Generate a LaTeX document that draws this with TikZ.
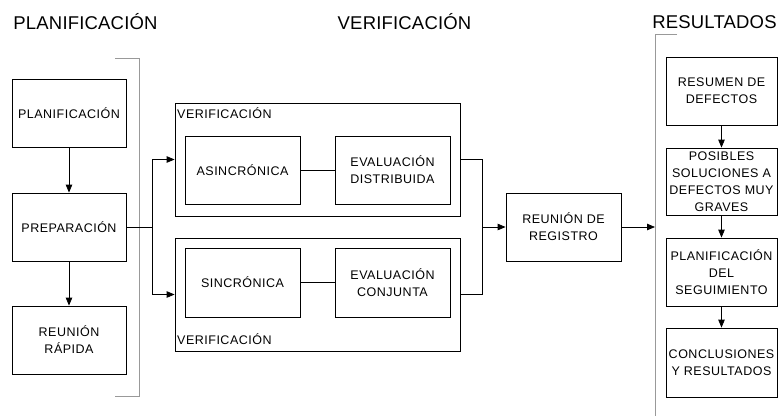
\documentclass[tikz,border=0pt]{standalone}
\usepackage{fontspec}
\setmainfont{Liberation Sans}
\newfontfamily\bxfont[LetterSpace=4]{Liberation Sans}
\newfontfamily\ttlfont[LetterSpace=1]{Liberation Sans}
\usetikzlibrary{arrows.meta}
\begin{document}
\begin{tikzpicture}[x=1pt,y=-1pt,
  box/.style={draw=black,line width=0.8pt,minimum width=114pt,minimum height=68pt,align=center,inner sep=1pt,font=\bxfont\fontsize{12.5}{17}\selectfont},
  outer/.style={draw=black,line width=0.8pt,minimum width=285pt,minimum height=113pt,inner sep=0pt},
  lab/.style={font=\bxfont\fontsize{12.5}{17}\selectfont,inner sep=0pt,anchor=west},
  title/.style={font=\ttlfont\fontsize{18.5}{22}\selectfont,inner sep=0pt},
  conn/.style={line width=0.8pt,black},
  arr/.style={conn,-{Triangle[length=8pt,width=6.5pt]}},
  brk/.style={line width=1pt,gray!80}]
\useasboundingbox (0,0) rectangle (782,416);
% titles
\node[title] (tp) at (85.5,22) {PLANIFICACIÓN};
\node[title] (tv) at (404.5,22) {VERIFICACIÓN};
\node[title] (tr) at (714.5,22) {RESULTADOS};
% brackets
\draw[brk] (115,58) -- (139,58) -- (139,396) -- (115,396);
\draw[brk] (677,34) -- (655,34) -- (655,416);
% planning column
\node[box] (p1) at (69,113) {PLANIFICACIÓN};
\node[box] (p2) at (69,227) {PREPARACIÓN};
\node[box] (p3) at (69,340) {REUNIÓN\\RÁPIDA};
\draw[arr] (p1.south) -- (p2.north);
\draw[arr] (p2.south) -- (p3.north);
% verification
\node[outer] (v1) at (317.5,159.5) {};
\node[outer] (v2) at (317.5,294.5) {};
\node[lab] (l1) at (177,113) {VERIFICACIÓN};
\node[lab] (l2) at (177,339) {VERIFICACIÓN};
\node[box,minimum width=115pt] (a1) at (242.5,170) {ASINCRÓNICA};
\node[box,minimum width=115pt] (d1) at (392.5,170) {EVALUACIÓN\\DISTRIBUIDA};
\node[box,minimum width=115pt,minimum height=69pt] (s2) at (242.5,282.5) {SINCRÓNICA};
\node[box,minimum width=115pt,minimum height=69pt] (c2) at (392.5,282.5) {EVALUACIÓN\\CONJUNTA};
\draw[conn] (a1.east) -- (d1.west);
\draw[conn] (s2.east) -- (c2.west);
\coordinate (jl) at (152,227);
\draw[conn] (p2.east) -- (jl);
\draw[arr] (jl) |- (v1.west);
\draw[arr] (jl) |- (v2.west);
\coordinate (jr) at (482,227);
\draw[conn] (v1.east) -| (jr);
\draw[conn] (v2.east) -| (jr);
\node[box,minimum width=115pt] (reg) at (563.5,227) {REUNIÓN DE\\REGISTRO};
\draw[arr] (jr) -- (reg.west);
\coordinate (rb) at (655,227);
\draw[arr] (reg.east) -- (rb);
% results
\node[box,minimum width=111pt] (r1) at (721.5,91) {RESUMEN DE\\DEFECTOS};
\node[box,minimum width=111pt,minimum height=67pt] (r2) at (721.5,181.5) {POSIBLES\\SOLUCIONES A\\DEFECTOS MUY\\GRAVES};
\node[box,minimum width=111pt] (r3) at (721.5,272) {PLANIFICACIÓN\\DEL\\SEGUIMIENTO};
\node[box,minimum width=111pt,minimum height=69pt] (r4) at (721.5,362.5) {CONCLUSIONES\\Y RESULTADOS};
\draw[arr] (r1.south) -- (r2.north);
\draw[arr] (r2.south) -- (r3.north);
\draw[arr] (r3.south) -- (r4.north);
\end{tikzpicture}
\end{document}
